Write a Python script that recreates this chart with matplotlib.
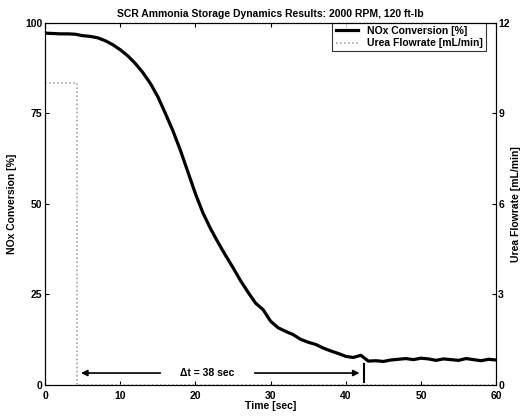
import numpy as np
import matplotlib
matplotlib.use('Agg')
import matplotlib.pyplot as plt

plt.rcParams['font.family'] = ['Liberation Sans', 'DejaVu Sans']
plt.rcParams['font.weight'] = 'bold'
plt.rcParams['font.size'] = 7.5

# NOx conversion [%] sampled every second
time_s = np.arange(0, 61)
nox_pct = [97.2, 97.1, 97.0, 97.0, 96.9, 96.5, 96.3, 95.9, 95.1, 94.0,
           92.6, 90.9, 88.8, 86.3, 83.3, 79.6, 75.0, 70.2, 64.8, 58.8,
           52.8, 47.5, 43.2, 39.4, 35.8, 32.4, 28.8, 25.6, 22.6, 20.8,
           17.6, 15.8, 14.8, 13.9, 12.6, 11.8, 11.2, 10.2, 9.4, 8.7,
           7.9, 7.6, 8.2, 6.6, 6.7, 6.5, 6.9, 7.1, 7.3, 7.0,
           7.4, 7.2, 6.8, 7.2, 7.0, 6.8, 7.3, 7.0, 6.7, 7.1, 6.9]

# urea dosing [mL/min]
urea_t = [0, 4.3, 4.3, 60]
urea_flow = [10, 10, 0, 0]

fig = plt.figure(figsize=(5.25, 4.18), dpi=100)
ax = fig.add_axes([0.086, 0.079, 0.859, 0.866])
ax2 = ax.twinx()

l1, = ax.plot(time_s, nox_pct, color='black', lw=2.3, label='NOx Conversion [%]')
l2, = ax2.plot(urea_t, urea_flow, color='#999999', lw=1.1, ls=':', label='Urea Flowrate [mL/min]')

ax.set_xlim(0, 60)
ax.set_ylim(0, 100)
ax2.set_ylim(0, 12)
ax.set_xticks([0, 10, 20, 30, 40, 50, 60])
ax.set_yticks([0, 25, 50, 75, 100])
ax2.set_yticks([0, 3, 6, 9, 12])
ax.tick_params(direction='in', top=True, length=3, pad=2)
ax.tick_params(axis='x', pad=4.5)
ax2.tick_params(direction='in', length=3, pad=1.5)

ax.set_title('SCR Ammonia Storage Dynamics Results: 2000 RPM, 120 ft-lb',
             fontweight='bold', fontsize=7.5, pad=4)
ax.set_xlabel('Time [sec]', fontweight='bold', labelpad=0)
ax.set_ylabel('NOx Conversion [%]', fontweight='bold', labelpad=6)
ax2.set_ylabel('Urea Flowrate [mL/min]', fontweight='bold', labelpad=1)

# delta-t annotation
ax.annotate('', xy=(4.4, 3.3), xytext=(15.7, 3.3),
            arrowprops=dict(arrowstyle='-|>', color='black', lw=1.2, mutation_scale=9))
ax.annotate('', xy=(42.2, 3.3), xytext=(27.5, 3.3),
            arrowprops=dict(arrowstyle='-|>', color='black', lw=1.2, mutation_scale=9))
ax.plot([42.4, 42.4], [0.8, 5.8], color='black', lw=1.5)
ax.text(21.5, 3.3, '\u0394t = 38 sec', ha='center', va='center', fontweight='bold')

leg = ax.legend([l1, l2], [l1.get_label(), l2.get_label()], loc='upper right',
                borderaxespad=0.0, bbox_to_anchor=(0.977, 1.0), frameon=True,
                fancybox=False, edgecolor='black', handlelength=2.2,
                borderpad=0.3, labelspacing=0.2, prop={'weight': 'bold', 'size': 7.5})
leg.get_frame().set_linewidth(0.8)

fig.savefig('out.png', dpi=100)
